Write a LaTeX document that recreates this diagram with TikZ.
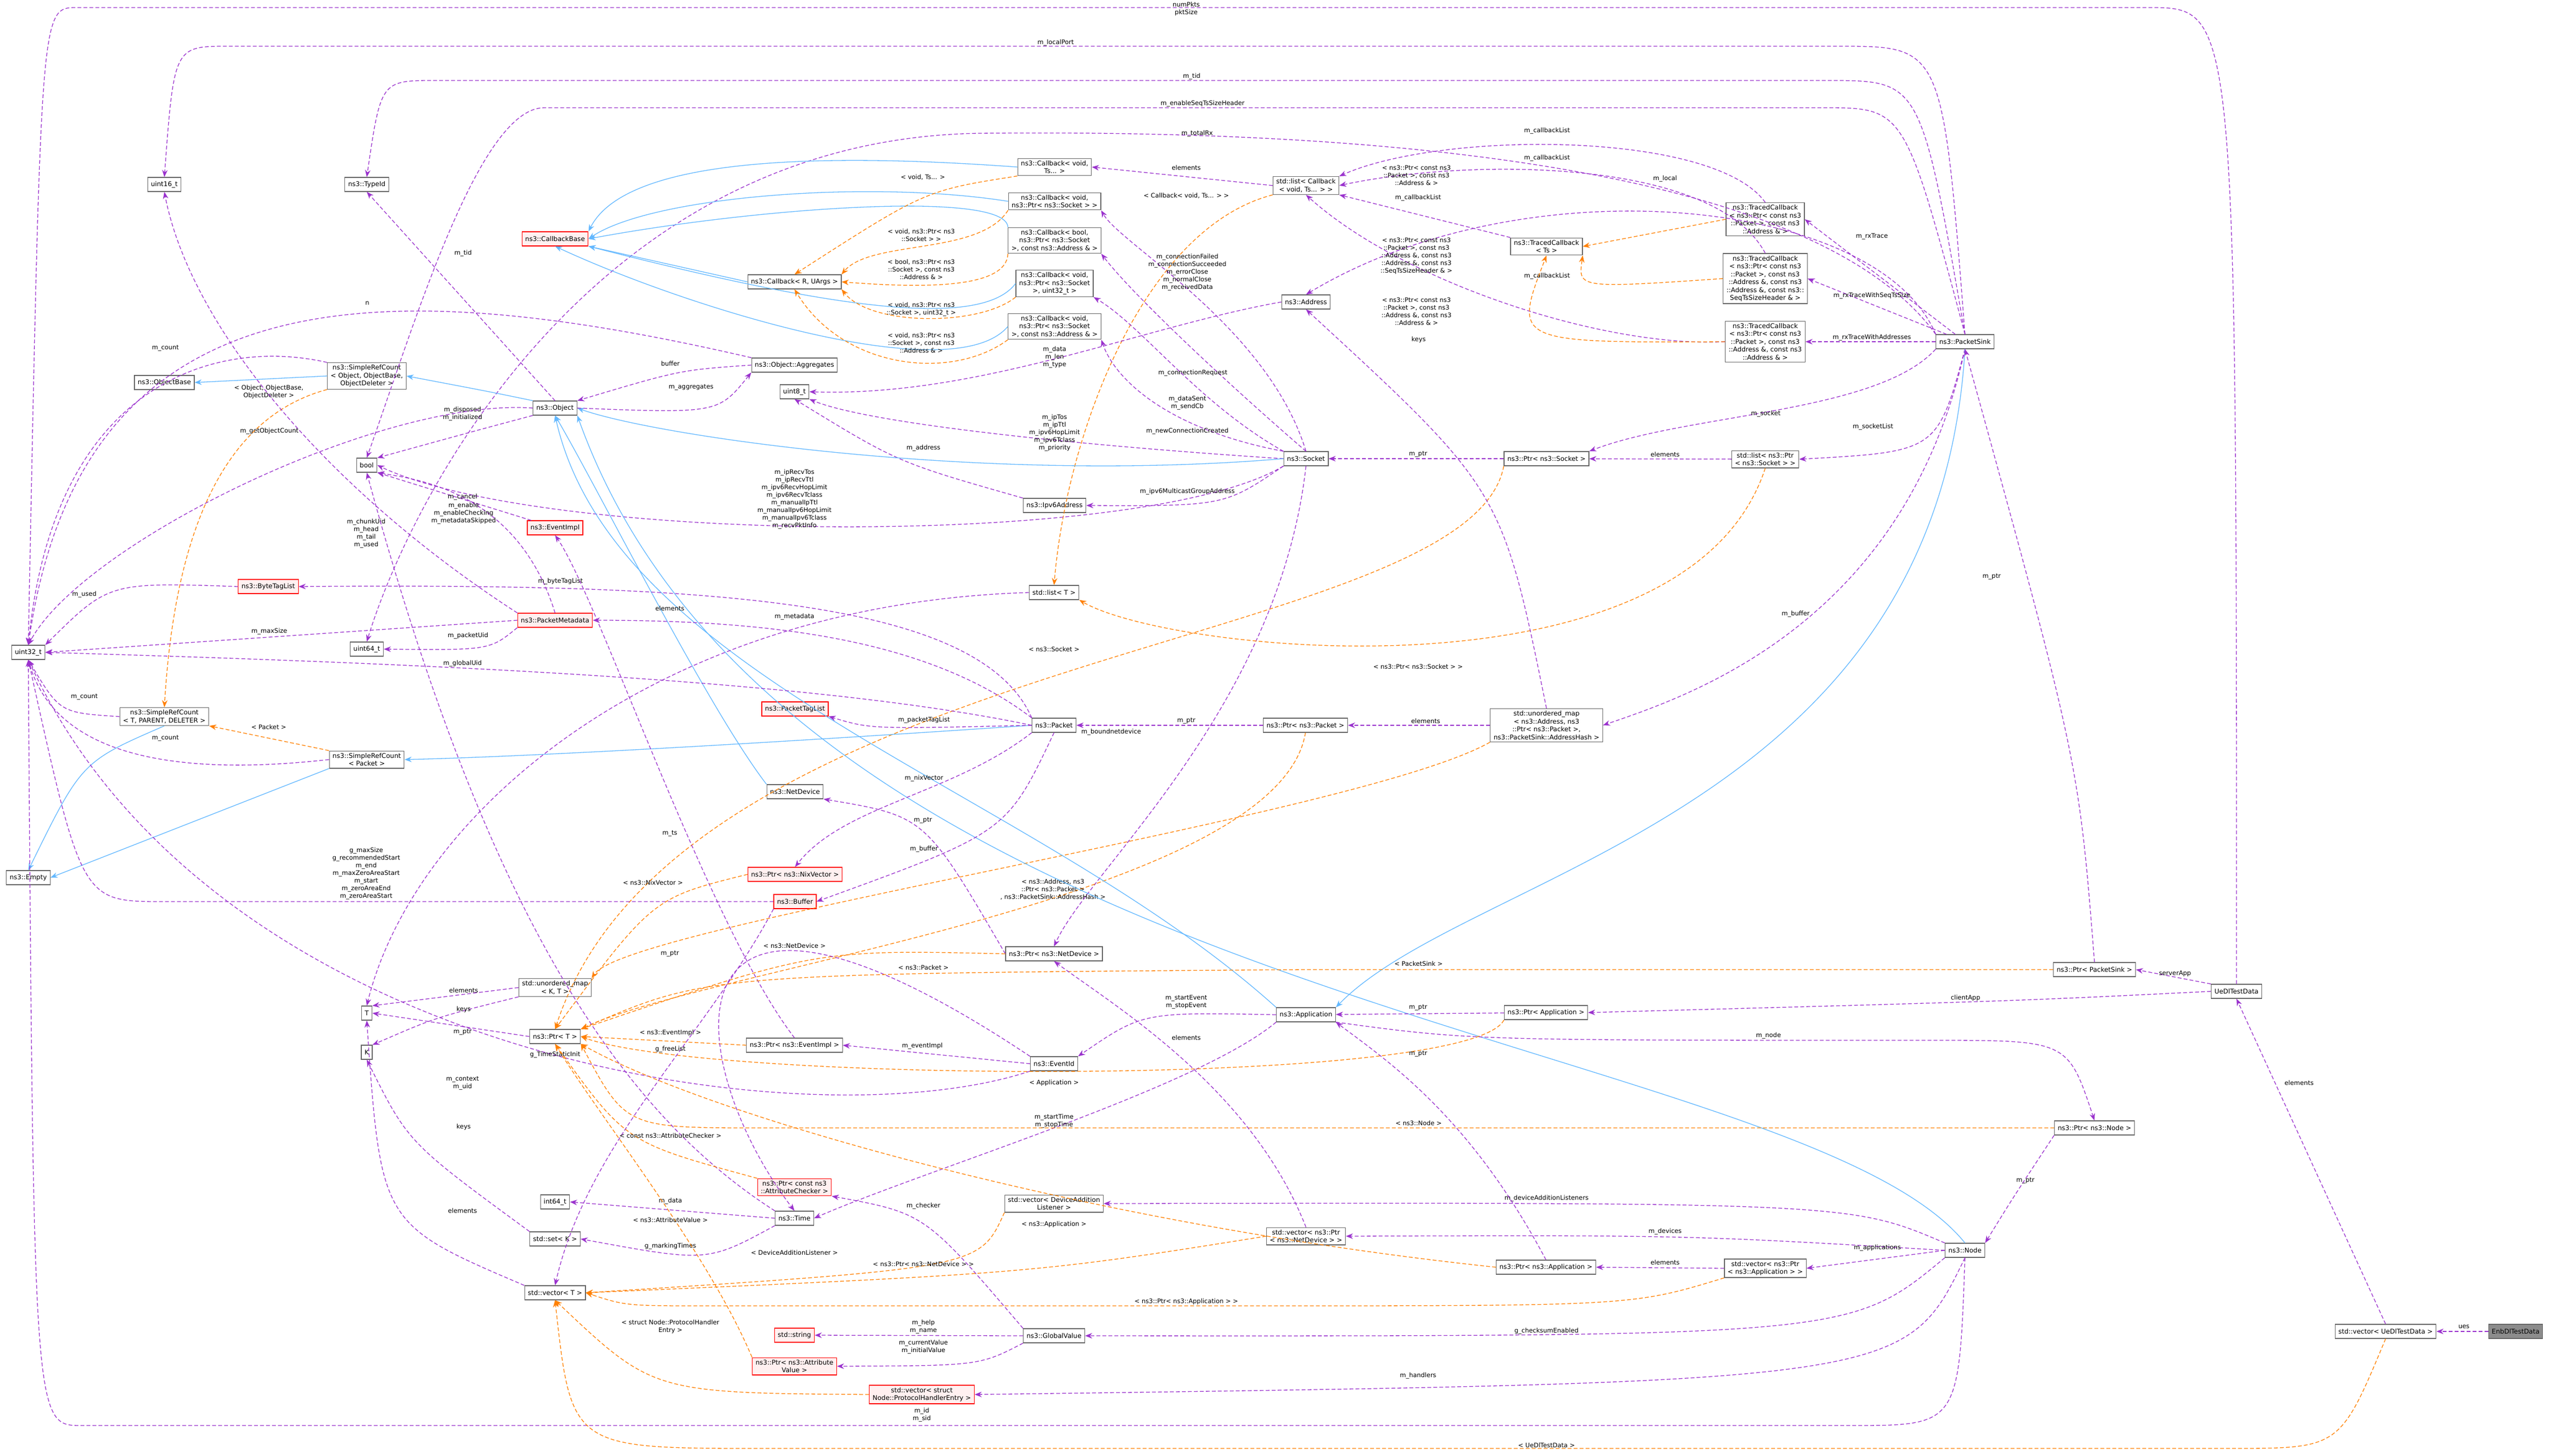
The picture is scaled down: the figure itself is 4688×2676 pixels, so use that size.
\documentclass[tikz,border=0pt]{standalone}
\usepackage{fontspec}
\setmainfont{DejaVu Sans}
\usetikzlibrary{arrows.meta}
\begin{document}
\begin{tikzpicture}[x=1pt,y=-1pt,
 font=\fontsize{12}{14.5}\selectfont,
 box/.style={draw=black!60,fill=white,line width=1.2pt,inner xsep=6pt,inner ysep=4pt,minimum height=26pt,align=center},
 rbox/.style={box,draw=red,fill=red!6},
 gbox/.style={box,fill=black!45},
 lab/.style={align=center,inner sep=1pt,font=\fontsize{11.5}{14}\selectfont},
 pe/.style={draw={rgb,255:red,154;green,50;blue,205},line width=1.3pt,dash pattern=on 7pt off 4pt,-{Stealth[length=13pt,width=10pt]}},
 oe/.style={draw=orange,line width=1.3pt,dash pattern=on 7pt off 4pt,-{Stealth[length=13pt,width=10pt]}},
 ie/.style={draw={rgb,255:red,99;green,184;blue,255},line width=1.3pt,-{Stealth[length=13pt,width=10pt]}}]
\useasboundingbox (0,0) rectangle (4688,2676);
% nodes
\node[box] (u16) at (302,339) {uint16\_t};
\node[box] (tid) at (674,339) {ns3::TypeId};
\node[rbox] (cbb) at (1020,439) {ns3::CallbackBase};
\node[box] (cbr) at (1460,518) {ns3::Callback< R, UArgs >};
\node[box] (cbv) at (1938,307) {ns3::Callback< void,\\ Ts... >};
\node[box] (cbs) at (1938,370) {ns3::Callback< void,\\ ns3::Ptr< ns3::Socket > >};
\node[box] (cbbool) at (1938,442) {ns3::Callback< bool,\\ ns3::Ptr< ns3::Socket\\ >, const ns3::Address \& >};
\node[box] (cbu) at (1938,521) {ns3::Callback< void,\\ ns3::Ptr< ns3::Socket\\ >, uint32\_t >};
\node[box] (cba) at (1938,600) {ns3::Callback< void,\\ ns3::Ptr< ns3::Socket\\ >, const ns3::Address \& >};
\node[box] (lcb) at (2400,341) {std::list< Callback\\ < void, Ts... > >};
\node[box] (tcts) at (2842,453) {ns3::TracedCallback\\ < Ts >};
\node[box] (tc1) at (3244,403) {ns3::TracedCallback\\ < ns3::Ptr< const ns3\\ ::Packet >, const ns3\\ ::Address \& >};
\node[box] (tc2) at (3244,512) {ns3::TracedCallback\\ < ns3::Ptr< const ns3\\ ::Packet >, const ns3\\ ::Address \&, const ns3\\ ::Address \&, const ns3::\\ SeqTsSizeHeader \& >};
\node[box] (tc3) at (3244,628) {ns3::TracedCallback\\ < ns3::Ptr< const ns3\\ ::Packet >, const ns3\\ ::Address \&, const ns3\\ ::Address \& >};
\node[box] (ps) at (3611,628) {ns3::PacketSink};
\node[box] (addr) at (2400,555) {ns3::Address};
\node[box] (u8) at (1460,720) {uint8\_t};
\node[box] (sock) at (2400,843) {ns3::Socket};
\node[box] (psock) at (2842,843) {ns3::Ptr< ns3::Socket >};
\node[box] (lpsock) at (3244,844) {std::list< ns3::Ptr\\ < ns3::Socket > >};
\node[box] (ipv6) at (1938,929) {ns3::Ipv6Address};
\node[box] (srco) at (674,691) {ns3::SimpleRefCount\\ < Object, ObjectBase,\\ ObjectDeleter >};
\node[box] (obase) at (302,703) {ns3::ObjectBase};
\node[box] (agg) at (1460,671) {ns3::Object::Aggregates};
\node[box] (obj) at (1020,750) {ns3::Object};
\node[box] (bool) at (674,855) {bool};
\node[rbox] (evi) at (1020,970) {ns3::EventImpl};
\node[rbox] (btl) at (493,1078) {ns3::ByteTagList};
\node[rbox] (pmd) at (1020,1140) {ns3::PacketMetadata};
\node[box] (u32) at (52,1199) {uint32\_t};
\node[box] (u64) at (674,1193) {uint64\_t};
\node[box] (lt) at (1937,1089) {std::list< T >};
\node[rbox] (ptl) at (1461,1303) {ns3::PacketTagList};
\node[box] (pkt) at (1937,1333) {ns3::Packet};
\node[box] (ppkt) at (2399,1333) {ns3::Ptr< ns3::Packet >};
\node[box] (umap) at (2842,1333) {std::unordered\_map\\ < ns3::Address, ns3\\ ::Ptr< ns3::Packet >,\\ ns3::PacketSink::AddressHash >};
\node[box] (srct) at (302,1317) {ns3::SimpleRefCount\\ < T, PARENT, DELETER >};
\node[box] (srcp) at (674,1396) {ns3::SimpleRefCount\\ < Packet >};
\node[box] (ndev) at (1461,1455) {ns3::NetDevice};
\node[rbox] (pnix) at (1461,1607) {ns3::Ptr< ns3::NixVector >};
\node[rbox] (buf) at (1461,1657) {ns3::Buffer};
\node[box] (empty) at (52,1613) {ns3::Empty};
\node[box] (umkt) at (1020,1815) {std::unordered\_map\\ < K, T >};
\node[box] (T) at (674,1862) {T};
\node[box] (pnd) at (1937,1753) {ns3::Ptr< ns3::NetDevice >};
\node[box] (pt) at (1020,1905) {ns3::Ptr< T >};
\node[box] (pev) at (1460,1921) {ns3::Ptr< ns3::EventImpl >};
\node[box] (eid) at (1937,1955) {ns3::EventId};
\node[box] (app) at (2400,1865) {ns3::Application};
\node[box] (papp) at (2841,1861) {ns3::Ptr< Application >};
\node[box] (pps) at (3849,1782) {ns3::Ptr< PacketSink >};
\node[box] (ue) at (4110,1822) {UeDlTestData};
\node[box] (K) at (674,1934) {K};
\node[rbox] (pac) at (1460,2182) {ns3::Ptr< const ns3\\ ::AttributeChecker >};
\node[box] (i64) at (1020,2209) {int64\_t};
\node[box] (time) at (1460,2239) {ns3::Time};
\node[box] (setk) at (1020,2277) {std::set< K >};
\node[box] (vdal) at (1937,2212) {std::vector< DeviceAddition\\ Listener >};
\node[box] (vnd) at (2400,2272) {std::vector< ns3::Ptr\\ < ns3::NetDevice > >};
\node[box] (pnapp) at (2841,2329) {ns3::Ptr< ns3::Application >};
\node[box] (vapp) at (3244,2331) {std::vector< ns3::Ptr\\ < ns3::Application > >};
\node[box] (node) at (3611,2298) {ns3::Node};
\node[box] (pnode) at (3849,2073) {ns3::Ptr< ns3::Node >};
\node[box] (vt) at (1020,2376) {std::vector< T >};
\node[rbox] (str) at (1460,2454) {std::string};
\node[box] (gv) at (1937,2455) {ns3::GlobalValue};
\node[rbox] (pav) at (1460,2511) {ns3::Ptr< ns3::Attribute\\ Value >};
\node[rbox] (vph) at (1694,2563) {std::vector< struct\\ Node::ProtocolHandlerEntry >};
\node[box] (vue) at (4384,2447) {std::vector< UeDlTestData >};
\node[gbox] (enb) at (4623,2447) {EnbDlTestData};
% long top edges
\draw[pe] (ue.north) .. controls (4110,14) .. (3950,14) -- (140,14) .. controls (75,14) .. (u32.north);
\node[lab] at (2180,16) {numPkts\\pktSize};
\draw[pe] (ps.north) .. controls (3570,85) .. (3380,85) -- (420,85) .. controls (320,85) .. (u16.north);
\node[lab] at (1940,78) {m\_localPort};
\draw[pe] (ps.north) .. controls (3530,148) .. (3360,148) -- (800,148) .. controls (700,148) .. (tid.north);
\node[lab] at (2190,140) {m\_tid};
\draw[pe] (ps.north) .. controls (3500,198) .. (3350,198) -- (1000,198) .. controls (880,198) and (760,600) .. (bool.north);
\node[lab] at (2210,190) {m\_enableSeqTsSizeHeader};
\draw[pe] (ps.north west) .. controls (3300,260) and (2300,240) .. (1800,245) .. controls (1100,255) and (760,900) .. (u64.north);
\node[lab] at (2200,245) {m\_totalRx};
% traced callbacks
\draw[pe] (tc1.north) .. controls (3150,240) and (2650,240) .. (lcb.north east);
\node[lab] at (2843,240) {m\_callbackList};
\draw[pe] (tc2.north) .. controls (3150,290) and (2700,290) .. (lcb.east);
\node[lab] at (2843,290) {m\_callbackList};
\draw[pe] (tcts.north west) -- (lcb.south east);
\node[lab] at (2606,363) {m\_callbackList};
\draw[pe] (tc3.west) .. controls (2950,640) and (2580,520) .. (lcb.south);
\node[lab] at (2843,507) {m\_callbackList};
\draw[pe] (ps.north west) .. controls (3450,360) and (2800,300) .. (addr.north);
\node[lab] at (3060,328) {m\_local};
\draw[pe] (ps) -- (tc1.east); \node[lab] at (3440,435) {m\_rxTrace};
\draw[pe] (ps) -- (tc2.east); \node[lab] at (3440,543) {m\_rxTraceWithSeqTsSize};
\draw[pe] (ps) -- (tc3.east); \node[lab] at (3440,620) {m\_rxTraceWithAddresses};
\draw[pe] (ps.south west) .. controls (3450,760) and (3100,760) .. (psock.north east); \node[lab] at (3245,760) {m\_socket};
\draw[pe] (ps.south) .. controls (3560,830) .. (lpsock.east); \node[lab] at (3442,784) {m\_socketList};
\draw[pe] (ps.south) .. controls (3500,1150) and (3100,1280) .. (umap.east); \node[lab] at (3300,1128) {m\_buffer};
\draw[ie] (ps.south) .. controls (3560,1500) and (2700,1600) .. (app.north east);
\draw[pe] (pps.north) .. controls (3820,1400) .. (ps.south); \node[lab] at (3660,1060) {m\_ptr};
\draw[oe] (tc1.west) -- (tcts.east); \node[lab] at (2603,322) {< ns3::Ptr< const ns3\\::Packet >, const ns3\\::Address \& >};
\draw[oe] (tc2.west) .. controls (2900,530) .. (tcts.south east); \node[lab] at (2603,470) {< ns3::Ptr< const ns3\\::Packet >, const ns3\\::Address \&, const ns3\\::Address \&, const ns3\\::SeqTsSizeHeader \& >};
\draw[oe] (tc3.west) .. controls (2780,630) .. (tcts.south); \node[lab] at (2603,572) {< ns3::Ptr< const ns3\\::Packet >, const ns3\\::Address \&, const ns3\\::Address \& >};
% callbacks
\draw[pe] (lcb.west) -- (cbv.east); \node[lab] at (2180,308) {elements};
\draw[oe] (lcb.south west) .. controls (2100,420) and (1960,800) .. (lt.north); \node[lab] at (2180,360) {< Callback< void, Ts... > >};
\draw[ie] (cbv.west) .. controls (1500,280) and (1150,290) .. (cbb.north east);
\draw[ie] (cbs.west) .. controls (1600,330) and (1200,360) .. (cbb.east);
\draw[ie] (cbbool.north west) .. controls (1850,350) and (1400,380) .. (cbb.east);
\draw[ie] (cbu.west) .. controls (1800,610) and (1500,560) .. (cbb.south east);
\draw[ie] (cba.west) .. controls (1750,720) and (1250,560) .. (cbb.south);
\draw[ie] (cbr.west) -- (cbb.south east);
\draw[oe] (cbv.south west) .. controls (1700,350) .. (cbr.north); \node[lab] at (1696,326) {< void, Ts... >};
\draw[oe] (cbs.south west) .. controls (1800,470) and (1600,440) .. (cbr.north east); \node[lab] at (1693,432) {< void, ns3::Ptr< ns3\\::Socket > >};
\draw[oe] (cbbool.south west) .. controls (1850,530) and (1700,530) .. (cbr.east); \node[lab] at (1693,495) {< bool, ns3::Ptr< ns3\\::Socket >, const ns3\\::Address \& >};
\draw[oe] (cbu.south west) .. controls (1800,600) and (1600,600) .. (cbr.south east); \node[lab] at (1693,568) {< void, ns3::Ptr< ns3\\::Socket >, uint32\_t >};
\draw[oe] (cba.south west) .. controls (1750,700) and (1550,680) .. (cbr.south); \node[lab] at (1693,630) {< void, ns3::Ptr< ns3\\::Socket >, const ns3\\::Address \& >};
% socket
\draw[pe] (sock.north) .. controls (2330,600) and (2060,450) .. (cbs.south east); \node[lab] at (2182,500) {m\_connectionFailed\\m\_connectionSucceeded\\m\_errorClose\\m\_normalClose\\m\_receivedData};
\draw[pe] (sock.north) .. controls (2250,700) and (2080,540) .. (cbbool.south east); \node[lab] at (2192,685) {m\_connectionRequest};
\draw[pe] (sock.north west) .. controls (2200,740) and (2100,600) .. (cbu.south east); \node[lab] at (2182,740) {m\_dataSent\\m\_sendCb};
\draw[pe] (sock.north west) .. controls (2150,790) and (2050,700) .. (cba.south east); \node[lab] at (2182,792) {m\_newConnectionCreated};
\draw[pe] (addr.west) .. controls (2100,600) and (1800,730) .. (u8.east); \node[lab] at (1938,656) {m\_data\\m\_len\\m\_type};
\draw[pe] (sock.west) .. controls (2000,820) and (1600,780) .. (u8.south east); \node[lab] at (1938,795) {m\_ipTos\\m\_ipTtl\\m\_ipv6HopLimit\\m\_ipv6Tclass\\m\_priority};
\draw[pe] (ipv6.north west) .. controls (1650,850) .. (u8.south); \node[lab] at (1697,823) {m\_address};
\draw[pe] (sock.south west) .. controls (2100,1010) and (1000,1000) .. (bool.east); \node[lab] at (1460,917) {m\_ipRecvTos\\m\_ipRecvTtl\\m\_ipv6RecvHopLimit\\m\_ipv6RecvTclass\\m\_manualIpTtl\\m\_manualIpv6HopLimit\\m\_manualIpv6Tclass\\m\_recvPktInfo};
\draw[pe] (sock.south west) .. controls (2250,930) .. (ipv6.east); \node[lab] at (2182,903) {m\_ipv6MulticastGroupAddress};
\draw[pe] (sock.south) .. controls (2350,1300) and (2000,1600) .. (pnd.north); \node[lab] at (2042,1345) {m\_boundnetdevice};
\draw[ie] (sock.west) .. controls (1800,890) and (1200,800) .. (obj.east);
\draw[pe] (psock) -- (sock); \node[lab] at (2606,835) {m\_ptr};
\draw[pe] (lpsock) -- (psock); \node[lab] at (3060,835) {elements};
\draw[oe] (psock.south west) .. controls (2700,1195) and (1250,1190) .. (pt.north); \node[lab] at (1937,1193) {< ns3::Socket >};
\draw[oe] (lpsock.south) .. controls (3100,1300) and (2150,1200) .. (lt.south east); \node[lab] at (2606,1225) {< ns3::Ptr< ns3::Socket > >};
\draw[pe] (umap.north) .. controls (2760,900) .. (addr.south); \node[lab] at (2607,624) {keys};
\draw[pe] (umap) -- (ppkt); \node[lab] at (2620,1325) {elements};
\draw[pe] (ppkt) -- (pkt); \node[lab] at (2180,1325) {m\_ptr};
\draw[oe] (ppkt.south) .. controls (2350,1650) and (1300,1780) .. (pt.north east); \node[lab] at (1697,1778) {< ns3::Packet >};
\draw[oe] (umap.south west) .. controls (2500,1500) and (1150,1700) .. (umkt.north east); \node[lab] at (1935,1635) {< ns3::Address, ns3\\::Ptr< ns3::Packet >\\, ns3::PacketSink::AddressHash >};
% object
\draw[pe] (obj.north) -- (tid.south); \node[lab] at (851,465) {m\_tid};
\draw[pe] (obj.south west) .. controls (880,790) .. (bool.north east); \node[lab] at (850,760) {m\_disposed\\m\_initialized};
\draw[pe] (obj.east) .. controls (1320,760) .. (agg.south west); \node[lab] at (1270,712) {m\_aggregates};
\draw[pe] (agg.west) .. controls (1250,680) .. (obj.north east); \node[lab] at (1232,668) {buffer};
\draw[pe] (agg.north west) .. controls (700,500) and (150,500) .. (u32.north); \node[lab] at (675,557) {n};
\draw[pe] (obj.west) .. controls (700,730) and (150,1000) .. (u32.north); \node[lab] at (495,792) {m\_getObjectCount};
\draw[ie] (obj.north west) .. controls (900,720) .. (srco.east);
\draw[ie] (srco.west) -- (obase.east);
\draw[pe] (srco.north west) .. controls (400,620) and (100,700) .. (u32.north); \node[lab] at (304,640) {m\_count};
\draw[oe] (srco.south west) .. controls (400,770) and (320,1000) .. (srct.north); \node[lab] at (494,720) {< Object, ObjectBase,\\ObjectDeleter >};
\draw[pe] (srct.west) .. controls (110,1310) .. (u32.south); \node[lab] at (155,1281) {m\_count};
\draw[pe] (srcp.west) .. controls (300,1430) and (100,1380) .. (u32.south); \node[lab] at (304,1357) {m\_count};
\draw[oe] (srcp.north west) -- (srct.south east); \node[lab] at (494,1336) {< Packet >};
\draw[ie] (srct.south) .. controls (150,1400) .. (empty.north);
\draw[ie] (srcp.south west) -- (empty.east);
\draw[ie] (pkt.west) .. controls (1500,1360) and (1000,1390) .. (srcp.east);
\draw[ie] (ndev.north west) .. controls (1300,1300) and (1100,900) .. (obj.south);
\draw[ie] (app.north west) .. controls (1900,1450) and (1130,1250) .. (obj.south);
\draw[ie] (node.north) .. controls (3300,1900) and (1450,1850) .. (obj.south east);
% packet
\draw[pe] (evi) -- (bool.south east); \node[lab] at (850,913) {m\_cancel};
\draw[pe] (pmd.north west) .. controls (600,900) and (350,600) .. (u16.south); \node[lab] at (673,980) {m\_chunkUid\\m\_head\\m\_tail\\m\_used};
\draw[pe] (pmd.north) .. controls (950,900) and (760,880) .. (bool.south east); \node[lab] at (852,943) {m\_enable\\m\_enableChecking\\m\_metadataSkipped};
\draw[pe] (pmd.west) -- (u32.east); \node[lab] at (495,1160) {m\_maxSize};
\draw[pe] (pmd.south west) .. controls (900,1195) .. (u64.east); \node[lab] at (860,1168) {m\_packetUid};
\draw[pe] (btl.west) .. controls (200,1070) .. (u32.north east); \node[lab] at (155,1092) {m\_used};
\draw[pe] (pkt.north west) .. controls (1800,1100) and (1300,1072) .. (btl.east); \node[lab] at (1030,1068) {m\_byteTagList};
\draw[pe] (pkt.north west) .. controls (1700,1170) and (1400,1140) .. (pmd.east); \node[lab] at (1460,1133) {m\_metadata};
\draw[pe] (pkt.west) .. controls (1500,1250) and (800,1220) .. (u32.east); \node[lab] at (850,1219) {m\_globalUid};
\draw[pe] (pkt.west) .. controls (1600,1340) .. (ptl.south east); \node[lab] at (1698,1323) {m\_packetTagList};
\draw[pe] (pkt.south west) .. controls (1750,1460) and (1550,1480) .. (pnix.north); \node[lab] at (1698,1430) {m\_nixVector};
\draw[pe] (pkt.south) .. controls (1850,1530) .. (buf.east); \node[lab] at (1698,1560) {m\_buffer};
\draw[pe] (buf.west) -- (300,1657) .. controls (150,1657) .. (u32.south); \node[lab] at (673,1605) {g\_maxSize\\g\_recommendedStart\\m\_end\\m\_maxZeroAreaStart\\m\_start\\m\_zeroAreaEnd\\m\_zeroAreaStart};
\draw[pe] (lt.west) .. controls (1200,1110) and (760,1500) .. (T.north); \node[lab] at (1231,1118) {elements};
\draw[pe] (pnd.west) .. controls (1700,1500) .. (ndev.south east); \node[lab] at (1696,1508) {m\_ptr};
\draw[oe] (pnix.west) .. controls (1200,1650) .. (pt.north); \node[lab] at (1200,1622) {< ns3::NixVector >};
\draw[oe] (pnd.west) .. controls (1500,1745) .. (pt.north east); \node[lab] at (1460,1738) {< ns3::NetDevice >};
\draw[oe] (pev.west) -- (pt.east); \node[lab] at (1232,1898) {< ns3::EventImpl >};
\draw[pe] (pev.north) .. controls (1300,1700) and (1100,1100) .. (evi.south); \node[lab] at (1231,1753) {m\_ptr};
\draw[pe] (eid.west) -- (pev.east); \node[lab] at (1695,1922) {m\_eventImpl};
\draw[pe] (eid.south west) .. controls (1500,2100) and (400,1960) .. (u32.south); \node[lab] at (850,1991) {m\_context\\m\_uid};
\draw[pe] (eid.north west) .. controls (1200,1480) and (1250,1950) .. (time.north); \node[lab] at (1231,1532) {m\_ts};
% application
\draw[pe] (app.west) .. controls (2100,1860) .. (eid.north east); \node[lab] at (2180,1842) {m\_startEvent\\m\_stopEvent};
\draw[pe] (app.south west) .. controls (2200,2000) and (1700,2150) .. (time.east); \node[lab] at (1937,2060) {m\_startTime\\m\_stopTime};
\draw[pe] (app.south east) .. controls (2700,1912) .. (3550,1912) .. controls (3800,1912) .. (pnode.north); \node[lab] at (3250,1903) {m\_node};
\draw[pe] (papp) -- (app); \node[lab] at (2606,1852) {m\_ptr};
\draw[oe] (papp.south west) .. controls (2700,2000) and (1300,1990) .. (pt.east); \node[lab] at (1937,1990) {< Application >};
\draw[pe] (ue.west) .. controls (3700,1840) .. (papp.east); \node[lab] at (3612,1834) {clientApp};
\draw[pe] (ue.north west) -- (pps.east); \node[lab] at (3997,1789) {serverApp};
\draw[oe] (pps.west) -- (2400,1782) .. controls (1300,1790) .. (pt.north east); \node[lab] at (2607,1771) {< PacketSink >};
\draw[oe] (pnode.west) -- (1400,2073) .. controls (1150,2073) .. (pt.south east); \node[lab] at (2607,2064) {< ns3::Node >};
\draw[pe] (pnode.south west) .. controls (3700,2200) .. (node.north east); \node[lab] at (3722,2170) {m\_ptr};
% templates
\draw[pe] (umkt.west) -- (T.north east); \node[lab] at (852,1820) {elements};
\draw[pe] (umkt.south west) .. controls (800,1870) .. (K.north east); \node[lab] at (852,1855) {keys};
\draw[pe] (pt.west) -- (T.east); \node[lab] at (850,1897) {m\_ptr};
\draw[pe] (setk.north west) .. controls (750,2100) .. (K.south); \node[lab] at (852,2071) {keys};
\draw[pe] (vt.north west) .. controls (700,2250) .. (T.south); \node[lab] at (850,2225) {elements};
\draw[pe] (time.west) -- (i64.east); \node[lab] at (1232,2207) {m\_data};
\draw[pe] (time.south west) .. controls (1300,2320) .. (setk.east); \node[lab] at (1232,2290) {g\_markingTimes};
\draw[pe] (time.north west) .. controls (1150,2050) and (900,1700) .. (bool.south); \node[lab] at (1020,1938) {g\_TimeStaticInit};
\draw[pe] (buf.south west) .. controls (1300,1900) and (1080,2100) .. (vt.north); \node[lab] at (1232,1928) {g\_freeList};
\draw[oe] (pac.north west) .. controls (1150,2100) .. (pt.south); \node[lab] at (1232,2087) {< const ns3::AttributeChecker >};
\draw[oe] (pav.north west) .. controls (1300,2300) and (1100,2050) .. (pt.south); \node[lab] at (1232,2242) {< ns3::AttributeValue >};
\draw[pe] (gv.north west) .. controls (1700,2230) .. (pac.south east); \node[lab] at (1697,2216) {m\_checker};
\draw[pe] (gv.west) -- (str.east); \node[lab] at (1697,2438) {m\_help\\m\_name};
\draw[pe] (gv.south west) .. controls (1800,2510) .. (pav.east); \node[lab] at (1697,2475) {m\_currentValue\\m\_initialValue};
% node
\draw[pe] (node.north west) .. controls (3400,2210) .. (vdal.east); \node[lab] at (2842,2202) {m\_deviceAdditionListeners};
\draw[pe] (node.west) .. controls (3100,2270) .. (vnd.east); \node[lab] at (3060,2263) {m\_devices};
\draw[pe] (node.west) -- (vapp.east); \node[lab] at (3450,2293) {m\_applications};
\draw[pe] (vapp.west) -- (pnapp.east); \node[lab] at (3060,2320) {elements};
\draw[pe] (pnapp.north) .. controls (2700,2050) and (2550,1950) .. (app.south east); \node[lab] at (2606,1937) {m\_ptr};
\draw[pe] (vnd.north) .. controls (2300,2000) and (2050,1850) .. (pnd.south); \node[lab] at (2180,1907) {elements};
\draw[pe] (node.south west) .. controls (3400,2456) .. (gv.east); \node[lab] at (2842,2446) {g\_checksumEnabled};
\draw[pe] (node.south) .. controls (3500,2540) .. (vph.east); \node[lab] at (2606,2528) {m\_handlers};
\draw[pe] (node.south) .. controls (3600,2620) .. (3400,2620) -- (150,2620) .. controls (62,2620) .. (u32.south); \node[lab] at (1694,2600) {m\_id\\m\_sid};
\draw[oe] (vdal.south west) .. controls (1800,2330) .. (vt.east); \node[lab] at (1460,2302) {< DeviceAdditionListener >};
\draw[oe] (vnd.west) .. controls (1900,2340) .. (vt.east); \node[lab] at (1697,2323) {< ns3::Ptr< ns3::NetDevice > >};
\draw[oe] (vapp.south west) .. controls (3000,2400) .. (2300,2400) -- (1300,2400) .. controls (1150,2400) .. (vt.east); \node[lab] at (2180,2392) {< ns3::Ptr< ns3::Application > >};
\draw[oe] (pnapp.west) .. controls (2000,2250) and (1300,2050) .. (pt.south east); \node[lab] at (1937,2250) {< ns3::Application >};
\draw[oe] (vph.west) .. controls (1200,2560) .. (vt.south); \node[lab] at (1232,2438) {< struct Node::ProtocolHandler\\Entry >};
\draw[oe] (vue.south) .. controls (4300,2662) .. (4100,2662) -- (1400,2662) .. controls (1050,2662) .. (vt.south); \node[lab] at (2842,2656) {< UeDlTestData >};
\draw[pe] (vue.north) -- (ue.south); \node[lab] at (4225,1990) {elements};
\draw[pe] (enb) -- (vue); \node[lab] at (4528,2438) {ues};
\end{tikzpicture}
\end{document}
